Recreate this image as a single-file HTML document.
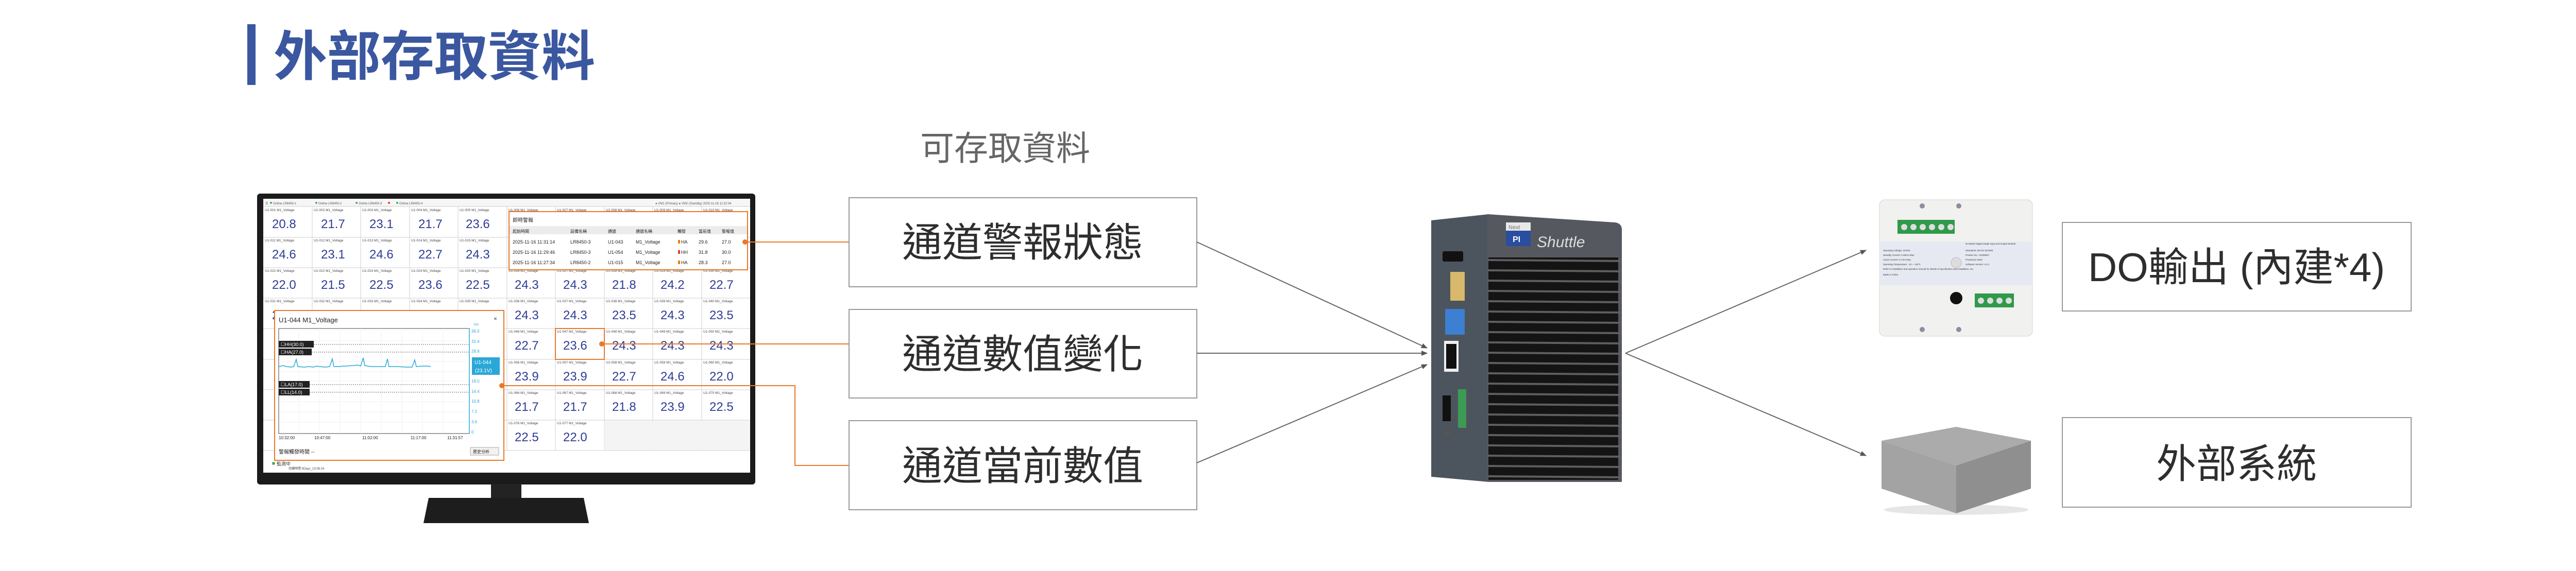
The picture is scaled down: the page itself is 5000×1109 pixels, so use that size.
<!DOCTYPE html>
<html><head><meta charset="utf-8">
<style>
html,body{margin:0;padding:0;background:#fff;width:5000px;height:1109px;overflow:hidden}
svg{display:block}
.cjk{font-family:"Liberation Sans","Noto Sans CJK TC",sans-serif}
.nar{font-family:"Liberation Sans Narrow","Liberation Sans",sans-serif}
</style></head>
<body>
<svg width="5000" height="1109" viewBox="0 0 5000 1109" xmlns="http://www.w3.org/2000/svg">
<defs>
<marker id="ah" markerWidth="12" markerHeight="10" refX="11" refY="5" orient="auto" markerUnits="userSpaceOnUse">
<path d="M0,0 L12,5 L0,10 Z" fill="#555"/></marker>
</defs>

<!-- Title -->
<rect x="480" y="47" width="16" height="118" fill="#3a57a0"/>
<text x="531" y="146" class="cjk" font-size="104" font-weight="bold" fill="#3a57a0">外部存取資料</text>
<text x="1786" y="311" class="cjk" font-size="66" fill="#666">可存取資料</text>

<!-- Monitor -->
<rect x="499" y="376" width="967" height="565" rx="6" fill="#1b1b1b"/>
<rect x="953" y="940" width="59" height="30" fill="#232323"/>
<path d="M832,967 L1133,967 L1143,1016 L822,1016 Z" fill="#1d1d1d"/>
<rect x="511" y="386" width="945" height="532" fill="#fff"/>
<rect x="511" y="386" width="945" height="15" fill="#f6f6f6"/>
<line x1="511" y1="401" x2="1456" y2="401" stroke="#ccc" stroke-width="1"/>
<g class="nar" font-size="6" fill="#555">
<text x="515" y="397">☰</text>
<circle cx="526" cy="394" r="2" fill="#4caf50"/><text x="530" y="397">Online  LR8450-1</text>
<circle cx="614" cy="394" r="2" fill="#4caf50"/><text x="618" y="397">Online  LR8450-2</text>
<circle cx="692" cy="394" r="2" fill="#4caf50"/><text x="696" y="397">Online  LR8450-3</text>
<circle cx="755" cy="394" r="2" fill="#e53935"/>
<circle cx="771" cy="394" r="2" fill="#4caf50"/><text x="775" y="397">Online  LR8450-4</text>
<text x="1272" y="397">● VM1 (Primary)  ● VM2 (Standby)  2025-11-16 11:32:04</text>
</g>
<g stroke="#cfcfcf" stroke-width="1">
<line x1="511" y1="461" x2="1456" y2="461"/><line x1="511" y1="520" x2="1456" y2="520"/>
<line x1="511" y1="579" x2="1456" y2="579"/><line x1="511" y1="638" x2="1456" y2="638"/>
<line x1="511" y1="698" x2="1456" y2="698"/><line x1="511" y1="757" x2="1456" y2="757"/>
<line x1="511" y1="816" x2="1456" y2="816"/><line x1="511" y1="875" x2="1456" y2="875"/>
<line x1="606" y1="401" x2="606" y2="875"/><line x1="700" y1="401" x2="700" y2="875"/>
<line x1="795" y1="401" x2="795" y2="875"/><line x1="889" y1="401" x2="889" y2="875"/>
<line x1="984" y1="401" x2="984" y2="875"/><line x1="1078" y1="401" x2="1078" y2="875"/>
<line x1="1173" y1="401" x2="1173" y2="875"/><line x1="1267" y1="401" x2="1267" y2="875"/>
<line x1="1362" y1="401" x2="1362" y2="875"/>
</g>
<rect x="1173" y="817" width="283" height="57" fill="#f4f4f4"/>
<g class="nar" font-size="6.5" fill="#444">
<text x="514" y="410">U1-001  M1_Voltage</text><text x="609" y="410">U1-002  M1_Voltage</text><text x="703" y="410">U1-003  M1_Voltage</text><text x="798" y="410">U1-004  M1_Voltage</text><text x="892" y="410">U1-005  M1_Voltage</text><text x="987" y="410">U1-006  M1_Voltage</text><text x="1081" y="410">U1-007  M1_Voltage</text><text x="1176" y="410">U1-008  M1_Voltage</text><text x="1270" y="410">U1-009  M1_Voltage</text><text x="1365" y="410">U1-010  M1_Voltage</text>
<text x="514" y="469">U1-011  M1_Voltage</text><text x="609" y="469">U1-012  M1_Voltage</text><text x="703" y="469">U1-013  M1_Voltage</text><text x="798" y="469">U1-014  M1_Voltage</text><text x="892" y="469">U1-015  M1_Voltage</text>
<text x="514" y="528">U1-021  M1_Voltage</text><text x="609" y="528">U1-022  M1_Voltage</text><text x="703" y="528">U1-023  M1_Voltage</text><text x="798" y="528">U1-024  M1_Voltage</text><text x="892" y="528">U1-025  M1_Voltage</text><text x="987" y="528">U1-026  M1_Voltage</text><text x="1081" y="528">U1-027  M1_Voltage</text><text x="1176" y="528">U1-028  M1_Voltage</text><text x="1270" y="528">U1-029  M1_Voltage</text><text x="1365" y="528">U1-030  M1_Voltage</text>
<text x="514" y="587">U1-031  M1_Voltage</text><text x="609" y="587">U1-032  M1_Voltage</text><text x="703" y="587">U1-033  M1_Voltage</text><text x="798" y="587">U1-034  M1_Voltage</text><text x="892" y="587">U1-035  M1_Voltage</text><text x="987" y="587">U1-036  M1_Voltage</text><text x="1081" y="587">U1-037  M1_Voltage</text><text x="1176" y="587">U1-038  M1_Voltage</text><text x="1270" y="587">U1-039  M1_Voltage</text><text x="1365" y="587">U1-040  M1_Voltage</text>
<text x="987" y="646">U1-046  M1_Voltage</text><text x="1081" y="646">U1-047  M1_Voltage</text><text x="1176" y="646">U1-048  M1_Voltage</text><text x="1270" y="646">U1-049  M1_Voltage</text><text x="1365" y="646">U1-050  M1_Voltage</text>
<text x="987" y="706">U1-056  M1_Voltage</text><text x="1081" y="706">U1-057  M1_Voltage</text><text x="1176" y="706">U1-058  M1_Voltage</text><text x="1270" y="706">U1-059  M1_Voltage</text><text x="1365" y="706">U1-060  M1_Voltage</text>
<text x="987" y="765">U1-066  M1_Voltage</text><text x="1081" y="765">U1-067  M1_Voltage</text><text x="1176" y="765">U1-068  M1_Voltage</text><text x="1270" y="765">U1-069  M1_Voltage</text><text x="1365" y="765">U1-070  M1_Voltage</text>
<text x="987" y="824">U1-076  M1_Voltage</text><text x="1081" y="824">U1-077  M1_Voltage</text>
</g>
<g class="nar" font-size="24" fill="#2e3c96">
<text x="528" y="443">20.8</text><text x="623" y="443">21.7</text><text x="717" y="443">23.1</text><text x="812" y="443">21.7</text><text x="904" y="443">23.6</text>
<text x="528" y="502">24.6</text><text x="623" y="502">23.1</text><text x="717" y="502">24.6</text><text x="812" y="502">22.7</text><text x="904" y="502">24.3</text>
<text x="528" y="561">22.0</text><text x="623" y="561">21.5</text><text x="717" y="561">22.5</text><text x="812" y="561">23.6</text><text x="904" y="561">22.5</text><text x="999" y="561">24.3</text><text x="1093" y="561">24.3</text><text x="1188" y="561">21.8</text><text x="1282" y="561">24.2</text><text x="1377" y="561">22.7</text>
<text x="528" y="620">22.0</text><text x="623" y="620">21.0</text><text x="717" y="620">21.7</text><text x="812" y="620">22.0</text><text x="904" y="620">24.3</text><text x="999" y="620">24.3</text><text x="1093" y="620">24.3</text><text x="1188" y="620">23.5</text><text x="1282" y="620">24.3</text><text x="1377" y="620">23.5</text>
<text x="999" y="679">22.7</text><text x="1093" y="679">23.6</text><text x="1188" y="679">24.3</text><text x="1282" y="679">24.3</text><text x="1377" y="679">24.3</text>
<text x="999" y="739">23.9</text><text x="1093" y="739">23.9</text><text x="1188" y="739">22.7</text><text x="1282" y="739">24.6</text><text x="1377" y="739">22.0</text>
<text x="999" y="798">21.7</text><text x="1093" y="798">21.7</text><text x="1188" y="798">21.8</text><text x="1282" y="798">23.9</text><text x="1377" y="798">22.5</text>
<text x="999" y="857">22.5</text><text x="1093" y="857">22.0</text>
</g>
<rect x="1078" y="638" width="95" height="60" fill="none" stroke="#e8792a" stroke-width="2"/>
<circle cx="531" cy="900" r="3" fill="#4caf50"/>
<text x="537" y="904" class="cjk" font-size="9" fill="#333">監測中</text>
<text x="560" y="912" class="cjk" font-size="6" fill="#444">持續時間    5Days_13:06:24</text>

<!-- alert popup -->
<rect x="988" y="411" width="463" height="113" fill="#fff" stroke="#e8792a" stroke-width="2"/>
<text x="995" y="431" class="cjk" font-size="10" fill="#222">即時警報</text>
<line x1="989" y1="440" x2="1450" y2="440" stroke="#ddd"/>
<rect x="989" y="441" width="461" height="14" fill="#ececec"/>
<g class="cjk" font-size="8" fill="#222">
<text x="995" y="452">起始時間</text><text x="1107" y="452">設備名稱</text><text x="1180" y="452">通道</text><text x="1234" y="452">通道名稱</text><text x="1315" y="452">觸發</text><text x="1356" y="452">當前值</text><text x="1401" y="452">警報值</text>
</g>
<g class="nar" font-size="9" fill="#222">
<text x="995" y="473">2025-11-16 11:31:14</text><text x="1107" y="473">LR8450-3</text><text x="1180" y="473">U1-043</text><text x="1234" y="473">M1_Voltage</text><text x="1322" y="473">HA</text><text x="1356" y="473">29.6</text><text x="1401" y="473">27.0</text>
<text x="995" y="493">2025-11-16 11:29:46</text><text x="1107" y="493">LR8450-3</text><text x="1180" y="493">U1-054</text><text x="1234" y="493">M1_Voltage</text><text x="1322" y="493">HH</text><text x="1356" y="493">31.8</text><text x="1401" y="493">30.0</text>
<text x="995" y="513">2025-11-16 11:27:34</text><text x="1107" y="513">LR8450-2</text><text x="1180" y="513">U1-015</text><text x="1234" y="513">M1_Voltage</text><text x="1322" y="513">HA</text><text x="1356" y="513">28.3</text><text x="1401" y="513">27.0</text>
</g>
<rect x="1316" y="466" width="4" height="7" fill="#f57c00"/><rect x="1316" y="486" width="4" height="7" fill="#e53935"/><rect x="1316" y="506" width="4" height="7" fill="#f57c00"/>

<!-- chart popup -->
<rect x="533" y="603" width="445" height="291" fill="#fff" stroke="#e8792a" stroke-width="2"/>
<text x="541" y="626" class="nar" font-size="13" fill="#222">U1-044   M1_Voltage</text>
<text x="958" y="623" font-family="Liberation Sans" font-size="12" fill="#444">×</text>
<text x="919" y="632" class="nar" font-size="6" fill="#29a8d8">Vdc</text>
<rect x="541" y="638" width="370" height="204" fill="#fff" stroke="#444" stroke-width="1"/>
<g stroke="#eee" stroke-width="0.8">
<line x1="541" y1="662" x2="911" y2="662"/><line x1="541" y1="682" x2="911" y2="682"/><line x1="541" y1="702" x2="911" y2="702"/><line x1="541" y1="722" x2="911" y2="722"/><line x1="541" y1="740" x2="911" y2="740"/><line x1="541" y1="760" x2="911" y2="760"/><line x1="541" y1="780" x2="911" y2="780"/><line x1="541" y1="800" x2="911" y2="800"/><line x1="541" y1="820" x2="911" y2="820"/>
<line x1="580" y1="638" x2="580" y2="842"/><line x1="620" y1="638" x2="620" y2="842"/><line x1="660" y1="638" x2="660" y2="842"/><line x1="700" y1="638" x2="700" y2="842"/><line x1="740" y1="638" x2="740" y2="842"/><line x1="780" y1="638" x2="780" y2="842"/><line x1="820" y1="638" x2="820" y2="842"/><line x1="860" y1="638" x2="860" y2="842"/>
</g>
<g stroke="#666" stroke-width="1" stroke-dasharray="2,2">
<line x1="541" y1="669" x2="911" y2="669"/><line x1="541" y1="684" x2="911" y2="684"/><line x1="541" y1="747" x2="911" y2="747"/><line x1="541" y1="762" x2="911" y2="762"/>
</g>
<g fill="#222"><rect x="541" y="662" width="68" height="13"/><rect x="541" y="677" width="64" height="13"/><rect x="541" y="740" width="60" height="13"/><rect x="541" y="755" width="60" height="13"/></g>
<g class="nar" font-size="9" fill="#fff">
<text x="545" y="672">☐HH(30.0)</text><text x="545" y="687">☐HA(27.0)</text><text x="545" y="750">☐LA(17.0)</text><text x="545" y="765">☐LL(14.0)</text>
</g>
<polyline fill="none" stroke="#29a8d8" stroke-width="1.5" points="541,712 550,710 556,712 565,713 570,712 575,698 578,712 590,713 600,712 608,713 615,711 620,712 632,713 640,712 645,697 648,712 660,712 665,711 670,711 685,710 695,709 700,711 705,695 708,710 720,712 735,712 740,712 748,712 752,697 755,712 770,712 790,713 800,713 805,699 808,712 820,711 830,711 836,712"/>
<line x1="911" y1="638" x2="911" y2="842" stroke="#29a8d8" stroke-width="1.5"/>
<g class="nar" font-size="8" fill="#29a8d8">
<text x="915" y="646">36.0</text><text x="915" y="666">32.4</text><text x="915" y="685">28.8</text><text x="915" y="743">18.0</text><text x="915" y="763">14.4</text><text x="915" y="782">10.8</text><text x="915" y="802">7.2</text><text x="915" y="822">3.6</text><text x="915" y="842">0</text>
</g>
<rect x="916" y="694" width="54" height="34" fill="#29a8d8"/>
<text x="921" y="707" class="nar" font-size="10" fill="#fff">U1-044</text>
<text x="922" y="723" class="nar" font-size="10" fill="#fff">(23.1V)</text>
<g class="nar" font-size="8" fill="#222">
<text x="541" y="853">10:32:00</text><text x="610" y="853">10:47:00</text><text x="703" y="853">11:02:00</text><text x="797" y="853">11:17:00</text><text x="868" y="853">11:31:57</text>
</g>
<text x="541" y="881" class="cjk" font-size="10" fill="#222">警報觸發時間 --</text>
<rect x="913" y="869" width="55" height="15" fill="#f2f2f2" stroke="#aaa"/>
<text x="918" y="880" class="cjk" font-size="8" fill="#222">歷史分析</text>

<!-- orange connectors -->
<g stroke="#e8792a" stroke-width="2" fill="none">
<polyline points="1446,470 1648,470"/>
<polyline points="1168,668 1648,668"/>
<polyline points="974,749 1543,749 1543,904 1648,904"/>
</g>
<g fill="#e8792a"><circle cx="1446" cy="470" r="5"/><circle cx="1168" cy="668" r="5"/><circle cx="974" cy="749" r="5"/></g>

<!-- left boxes -->
<g fill="#fff" stroke="#999" stroke-width="2">
<rect x="1648" y="384" width="675" height="173"/>
<rect x="1648" y="601" width="675" height="172"/>
<rect x="1648" y="817" width="675" height="173"/>
</g>
<g class="cjk" font-size="78" fill="#2e2e2e" text-anchor="middle">
<text x="1985" y="498">通道警報狀態</text>
<text x="1985" y="715">通道數值變化</text>
<text x="1985" y="932">通道當前數值</text>
</g>

<!-- gray arrows -->
<g stroke="#666" stroke-width="2" fill="none" marker-end="url(#ah)">
<line x1="2323" y1="470" x2="2770" y2="676"/>
<line x1="2323" y1="686" x2="2770" y2="686"/>
<line x1="2323" y1="899" x2="2770" y2="708"/>
<line x1="3155" y1="686" x2="3622" y2="486"/>
<line x1="3155" y1="686" x2="3622" y2="885"/>
</g>

<!-- Computer -->
<path d="M2778,428 L2890,416 L2890,936 L2778,926 Z" fill="#4c545e"/>
<path d="M2887,416 L3135,432 Q3148,434 3148,446 L3148,936 L2887,936 Z" fill="#55595f"/>
<rect x="2889" y="500" width="252" height="432" fill="#141414"/>
<g stroke="#5e5e5e" stroke-width="4">
<line x1="2889" y1="505" x2="3148" y2="507"/><line x1="2889" y1="525" x2="3148" y2="527"/><line x1="2889" y1="545" x2="3148" y2="547"/><line x1="2889" y1="565" x2="3148" y2="567"/><line x1="2889" y1="585" x2="3148" y2="587"/><line x1="2889" y1="605" x2="3148" y2="607"/><line x1="2889" y1="625" x2="3148" y2="627"/><line x1="2889" y1="645" x2="3148" y2="647"/><line x1="2889" y1="665" x2="3148" y2="667"/><line x1="2889" y1="685" x2="3148" y2="687"/><line x1="2889" y1="705" x2="3148" y2="707"/><line x1="2889" y1="725" x2="3148" y2="727"/><line x1="2889" y1="745" x2="3148" y2="747"/><line x1="2889" y1="765" x2="3148" y2="767"/><line x1="2889" y1="785" x2="3148" y2="787"/><line x1="2889" y1="805" x2="3148" y2="807"/><line x1="2889" y1="825" x2="3148" y2="827"/><line x1="2889" y1="845" x2="3148" y2="847"/><line x1="2889" y1="865" x2="3148" y2="867"/><line x1="2889" y1="885" x2="3148" y2="887"/><line x1="2889" y1="905" x2="3148" y2="907"/><line x1="2889" y1="925" x2="3148" y2="927"/>
</g>
<rect x="2923" y="432" width="48" height="16" fill="#e8e8e8"/>
<text x="2928" y="445" font-family="Liberation Sans" font-size="11" fill="#777">Next</text>
<rect x="2923" y="448" width="48" height="30" fill="#2a4da0"/>
<text x="2936" y="470" font-family="Liberation Sans" font-weight="bold" font-size="16" fill="#fff">PI</text>
<text x="2983" y="480" font-family="Liberation Sans" font-style="italic" font-size="30" fill="#ddd">Shuttle</text>
<rect x="2800" y="488" width="40" height="20" rx="3" fill="#111"/>
<rect x="2815" y="528" width="28" height="56" fill="#d8b86a"/>
<rect x="2805" y="600" width="38" height="50" fill="#3d7fd0"/>
<rect x="2803" y="662" width="28" height="60" fill="#eee"/><rect x="2807" y="668" width="20" height="48" fill="#111"/>
<rect x="2830" y="756" width="16" height="75" fill="#3c9a55"/>
<rect x="2800" y="768" width="16" height="50" fill="#111"/>
<circle cx="2810" cy="840" r="6" fill="#555"/>

<!-- DO module -->
<rect x="3648" y="388" width="297" height="265" rx="10" fill="#f1f1ef" stroke="#d5d5d5"/>
<rect x="3648" y="469" width="297" height="85" fill="#e7e9f2"/>
<rect x="3683" y="427" width="111" height="27" fill="#2f9a4a"/>
<g fill="#ddd"><circle cx="3696" cy="441" r="6"/><circle cx="3714" cy="441" r="6"/><circle cx="3732" cy="441" r="6"/><circle cx="3750" cy="441" r="6"/><circle cx="3768" cy="441" r="6"/><circle cx="3786" cy="441" r="6"/></g>
<rect x="3833" y="570" width="76" height="27" fill="#2f9a4a"/>
<g fill="#ddd"><circle cx="3845" cy="584" r="6"/><circle cx="3863" cy="584" r="6"/><circle cx="3881" cy="584" r="6"/><circle cx="3899" cy="584" r="6"/></g>
<circle cx="3797" cy="579" r="12" fill="#111"/>
<circle cx="3797" cy="510" r="10" fill="#ddd" stroke="#bbb"/>
<g fill="#8a8fa0"><circle cx="3731" cy="400" r="5"/><circle cx="3802" cy="400" r="5"/><circle cx="3731" cy="640" r="5"/><circle cx="3802" cy="640" r="5"/></g>
<g font-family="Liberation Sans" font-size="4.5" fill="#333">
<text x="3655" y="488">Operating Voltage: 24VDC</text><text x="3655" y="497">Standby Current: 0.28mA Max.</text><text x="3655" y="506">Action Current: 5.7mA Max.</text><text x="3655" y="515">Operating Temperature: -10 ~ +55°C</text><text x="3655" y="524">Refer to installation and operation manual for details of specification and installation, etc.</text><text x="3655" y="535">Made in China</text>
<text x="3815" y="475">DI-9301E Digital Single Input and Output Module</text><text x="3815" y="488">Standards: EN 54-18:2005</text><text x="3815" y="497">Product No.: 10105507</text><text x="3815" y="506">Production Date:</text><text x="3815" y="515">Software Version: V1.0</text>
</g>

<!-- Cube -->
<ellipse cx="3797" cy="990" rx="140" ry="10" fill="#e6e6e6"/>
<path d="M3652,856 L3797,829 L3942,856 L3797,904 Z" fill="#ababab"/>
<path d="M3652,856 L3797,904 L3797,997 L3652,949 Z" fill="#a3a3a3"/>
<path d="M3942,856 L3797,904 L3797,997 L3942,949 Z" fill="#8f8f8f"/>

<!-- right boxes -->
<g fill="#fff" stroke="#999" stroke-width="2">
<rect x="4003" y="432" width="677" height="172"/>
<rect x="4003" y="811" width="677" height="174"/>
</g>
<g class="cjk" font-size="78" fill="#2e2e2e" text-anchor="middle">
<text x="4341" y="546">DO輸出 (內建*4)</text>
<text x="4341" y="928">外部系統</text>
</g>
</svg>
</body></html>
